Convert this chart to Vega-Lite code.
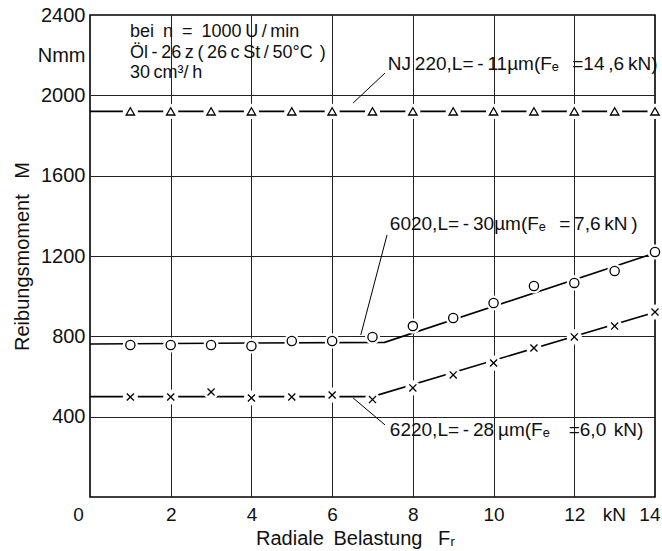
{
  "$schema": "https://vega.github.io/schema/vega-lite/v6.json",
  "autosize": {"type": "none"},
  "padding": {"left": 90, "top": 15, "right": 7, "bottom": 54},
  "width": 565,
  "height": 482,
  "background": "white",
  "config": {
    "font": "Liberation Sans",
    "view": {"stroke": "black", "strokeWidth": 1.6},
    "axis": {
      "domain": false,
      "ticks": false,
      "gridColor": "#222",
      "gridWidth": 1,
      "gridOpacity": 1,
      "labelColor": "#111",
      "titleColor": "#111",
      "labelFont": "Liberation Sans",
      "titleFont": "Liberation Sans",
      "labelFontWeight": "normal",
      "titleFontWeight": "normal"
    }
  },
  "datasets": {
    "curves": [
      {"series": "NJ 220", "x": 0, "y": 1920},
      {"series": "NJ 220", "x": 14, "y": 1920},
      {"series": "6020", "x": 0, "y": 762},
      {"series": "6020", "x": 7.3, "y": 770},
      {"series": "6020", "x": 14, "y": 1215},
      {"series": "6220", "x": 0, "y": 500},
      {"series": "6220", "x": 7, "y": 500},
      {"series": "6220", "x": 14, "y": 920}
    ],
    "measured": [
      {"series": "NJ 220", "x": 1, "y": 1920},
      {"series": "NJ 220", "x": 2, "y": 1920},
      {"series": "NJ 220", "x": 3, "y": 1920},
      {"series": "NJ 220", "x": 4, "y": 1920},
      {"series": "NJ 220", "x": 5, "y": 1920},
      {"series": "NJ 220", "x": 6, "y": 1920},
      {"series": "NJ 220", "x": 7, "y": 1920},
      {"series": "NJ 220", "x": 8, "y": 1920},
      {"series": "NJ 220", "x": 9, "y": 1920},
      {"series": "NJ 220", "x": 10, "y": 1920},
      {"series": "NJ 220", "x": 11, "y": 1920},
      {"series": "NJ 220", "x": 12, "y": 1920},
      {"series": "NJ 220", "x": 13, "y": 1920},
      {"series": "NJ 220", "x": 14, "y": 1920},
      {"series": "6020", "x": 1, "y": 757},
      {"series": "6020", "x": 2, "y": 757},
      {"series": "6020", "x": 3, "y": 757},
      {"series": "6020", "x": 4, "y": 752},
      {"series": "6020", "x": 5, "y": 777},
      {"series": "6020", "x": 6, "y": 777},
      {"series": "6020", "x": 7, "y": 797},
      {"series": "6020", "x": 8, "y": 851},
      {"series": "6020", "x": 9, "y": 891},
      {"series": "6020", "x": 10, "y": 966},
      {"series": "6020", "x": 11, "y": 1051},
      {"series": "6020", "x": 12, "y": 1066},
      {"series": "6020", "x": 13, "y": 1125},
      {"series": "6020", "x": 14, "y": 1220},
      {"series": "6220", "x": 1, "y": 498},
      {"series": "6220", "x": 2, "y": 498},
      {"series": "6220", "x": 3, "y": 523},
      {"series": "6220", "x": 4, "y": 493},
      {"series": "6220", "x": 5, "y": 498},
      {"series": "6220", "x": 6, "y": 508},
      {"series": "6220", "x": 7, "y": 485},
      {"series": "6220", "x": 8, "y": 543},
      {"series": "6220", "x": 9, "y": 608},
      {"series": "6220", "x": 10, "y": 667},
      {"series": "6220", "x": 11, "y": 742},
      {"series": "6220", "x": 12, "y": 797},
      {"series": "6220", "x": 13, "y": 851},
      {"series": "6220", "x": 14, "y": 921}
    ],
    "conditions": [
      {"text": "bei\u2002n\u2002=\u20021000\u2009U\u2009/\u2009min", "x": 0.99, "y": 2316},
      {"text": "Öl\u2009-\u200926\u2009z\u2009(\u200926\u2009c\u2009St\u2009/\u200950°C\u2009\u2009)", "x": 0.99, "y": 2211},
      {"text": "30\u2009cm³/\u2009h", "x": 0.99, "y": 2111}
    ],
    "bearings": [
      {"text": "NJ\u2009220,L=\u2009-\u200911µm(Fₑ\u2002\u2009=14\u2009,6\u2009kN)", "x": 7.38, "y": 2156},
      {"text": "6020,L=\u2009-\u200930µm(Fₑ\u2002\u2009=\u20097,6\u2009kN\u2009)", "x": 7.43, "y": 1360},
      {"text": "6220,L=\u2009-\u200928\u2009µm(Fₑ\u2002\u2002=6,0\u2009\u2009kN)", "x": 7.43, "y": 334}
    ],
    "leaders": [
      {"x": 7.31, "y": 2111, "x2": 6.52, "y2": 1962},
      {"x": 7.36, "y": 1305, "x2": 6.71, "y2": 807},
      {"x": 6.52, "y": 493, "x2": 7.31, "y2": 359}
    ]
  },
  "encoding": {
    "x": {
      "field": "x",
      "type": "quantitative",
      "scale": {"domain": [0, 14], "nice": false, "zero": false},
      "axis": {
        "values": [0, 2, 4, 6, 8, 10, 12, 14],
        "labelExpr": "datum.value == 14 ? 'kN\u2002\u200914' : datum.label",
        "labelFontSize": 19,
        "labelPadding": 8,
        "labelAlign": {"condition": {"test": "datum.value == 14", "value": "right"}, "value": "center"},
        "labelOffset": {"condition": [{"test": "datum.value == 0", "value": -12}, {"test": "datum.value == 14", "value": 5}], "value": 0},
        "labelBound": false,
        "labelOverlap": false,
        "gridOpacity": {"condition": {"test": "datum.value == 0 || datum.value == 14", "value": 0}, "value": 1},
        "title": "Radiale\u2009 Belastung\u2002 Fᵣ",
        "titleFontSize": 20,
        "titleX": 265,
        "titleY": 41,
        "titleBaseline": "middle"
      }
    },
    "y": {
      "field": "y",
      "type": "quantitative",
      "scale": {"domain": [0, 2400], "nice": false, "zero": true},
      "axis": {
        "values": [400, 800, 1200, 1600, 2000, 2200, 2400],
        "format": "d",
        "labelExpr": "datum.value == 2200 ? 'Nmm' : datum.label",
        "labelFontSize": 20,
        "labelPadding": 5,
        "gridOpacity": {"condition": {"test": "datum.value == 2200 || datum.value == 2400", "value": 0}, "value": 1},
        "title": "Reibungsmoment\u2002 M",
        "titleFontSize": 20,
        "titleX": -68,
        "titleY": 241,
        "titleAlign": "center",
        "titleBaseline": "middle"
      }
    }
  },
  "layer": [
    {
      "data": {"name": "curves"},
      "mark": {"type": "line", "color": "black", "strokeWidth": 1.6},
      "encoding": {"detail": {"field": "series"}}
    },
    {
      "data": {"name": "leaders"},
      "mark": {"type": "rule", "color": "black", "strokeWidth": 1},
      "encoding": {
        "x2": {"field": "x2"},
        "y2": {"field": "y2"}
      }
    },
    {
      "data": {"name": "measured"},
      "mark": {"type": "point", "shape": "circle", "filled": true, "color": "white", "stroke": null, "opacity": 1, "size": 230, "clip": false},
      "encoding": {}
    },
    {
      "data": {"name": "measured"},
      "transform": [{"filter": "datum.series == 'NJ 220'"}],
      "mark": {"type": "point", "shape": "triangle-up", "fill": "white", "fillOpacity": 1, "stroke": "black", "strokeWidth": 1.3, "opacity": 1, "size": 70},
      "encoding": {}
    },
    {
      "data": {"name": "measured"},
      "transform": [{"filter": "datum.series == '6020'"}],
      "mark": {"type": "point", "shape": "circle", "fill": "white", "fillOpacity": 1, "stroke": "black", "strokeWidth": 1.3, "opacity": 1, "size": 85},
      "encoding": {}
    },
    {
      "data": {"name": "measured"},
      "transform": [{"filter": "datum.series == '6220'"}],
      "mark": {"type": "point", "shape": "M -1 -1 L 1 1 M -1 1 L 1 -1", "filled": false, "stroke": "black", "strokeWidth": 1.3, "opacity": 1, "size": 50},
      "encoding": {}
    },
    {
      "data": {"name": "conditions"},
      "mark": {"type": "text", "align": "left", "baseline": "middle", "color": "#111", "font": "Liberation Sans", "fontSize": 18},
      "encoding": {"text": {"field": "text"}}
    },
    {
      "data": {"name": "bearings"},
      "mark": {"type": "text", "align": "left", "baseline": "middle", "color": "#111", "font": "Liberation Sans", "fontSize": 19},
      "encoding": {"text": {"field": "text"}}
    }
  ]
}
